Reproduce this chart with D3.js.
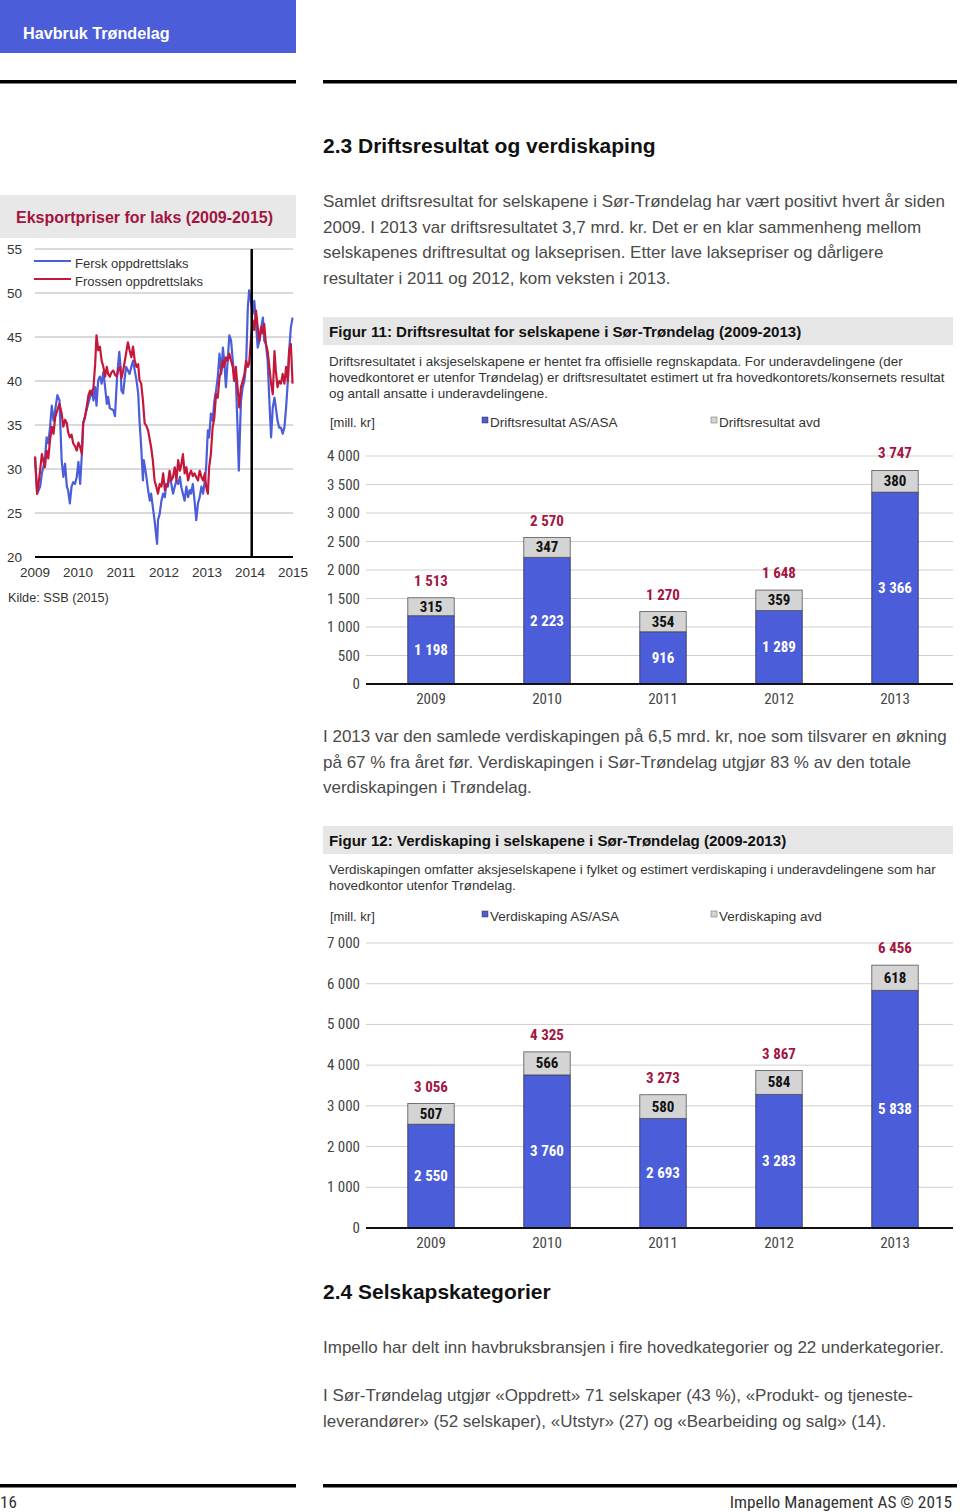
<!DOCTYPE html>
<html><head><meta charset="utf-8">
<script src="https://cdn.jsdelivr.net/npm/d3@7"></script>
<style>
body{margin:0;background:#fff;}
svg text{font-family:"Liberation Sans",Arial,sans-serif;}
</style></head><body><svg id="page" width="960" height="1512"></svg>
<script>
// ---------------- DATA ----------------
const priceYearTicks = [2009,2010,2011,2012,2013,2014,2015];
const priceTicks = [20,25,30,35,40,45,50,55];
const markerYear = 2014.04;
const fersk = [[2009.00,31.4],[2009.05,27.2],[2009.12,28.0],[2009.16,29.5],[2009.23,31.0],[2009.27,33.6],[2009.31,32.9],[2009.35,34.8],[2009.39,37.2],[2009.43,35.5],[2009.47,36.7],[2009.52,38.4],[2009.57,37.8],[2009.60,33.6],[2009.62,31.0],[2009.66,29.1],[2009.70,30.6],[2009.74,28.0],[2009.77,27.6],[2009.81,26.1],[2009.85,28.0],[2009.89,28.5],[2009.93,28.3],[2009.97,29.1],[2010.01,30.8],[2010.05,28.3],[2010.09,31.7],[2010.12,35.2],[2010.20,36.7],[2010.28,38.2],[2010.32,38.9],[2010.36,37.8],[2010.40,39.3],[2010.43,37.2],[2010.47,40.1],[2010.51,40.5],[2010.55,39.7],[2010.59,41.0],[2010.63,39.3],[2010.67,37.4],[2010.70,38.2],[2010.74,36.9],[2010.82,36.7],[2010.86,36.0],[2010.91,40.6],[2010.96,43.3],[2010.99,41.6],[2011.01,38.9],[2011.05,38.6],[2011.09,40.5],[2011.12,41.6],[2011.16,41.2],[2011.20,40.8],[2011.24,41.6],[2011.28,42.3],[2011.32,41.2],[2011.36,40.1],[2011.40,38.6],[2011.43,35.5],[2011.47,32.5],[2011.51,28.7],[2011.53,31.0],[2011.57,29.8],[2011.59,29.1],[2011.63,27.6],[2011.67,26.4],[2011.70,27.2],[2011.74,25.7],[2011.78,24.2],[2011.82,22.3],[2011.84,21.5],[2011.86,24.2],[2011.90,24.9],[2011.94,26.4],[2011.98,27.2],[2012.02,26.8],[2012.05,28.3],[2012.09,28.0],[2012.13,29.5],[2012.17,28.3],[2012.21,27.2],[2012.25,28.0],[2012.29,28.7],[2012.33,28.3],[2012.37,29.1],[2012.40,28.0],[2012.44,27.2],[2012.48,26.4],[2012.52,28.0],[2012.56,26.8],[2012.60,27.6],[2012.63,27.2],[2012.67,28.3],[2012.71,26.4],[2012.75,24.2],[2012.79,26.1],[2012.83,26.8],[2012.87,28.0],[2012.91,27.2],[2012.95,28.7],[2012.98,30.2],[2013.02,34.4],[2013.05,33.6],[2013.09,36.3],[2013.13,35.5],[2013.17,37.7],[2013.21,38.9],[2013.25,40.4],[2013.29,43.1],[2013.33,40.8],[2013.37,43.8],[2013.40,42.3],[2013.44,39.3],[2013.48,42.3],[2013.52,45.2],[2013.56,44.6],[2013.60,42.3],[2013.63,40.8],[2013.67,40.4],[2013.71,34.7],[2013.74,29.8],[2013.77,34.7],[2013.79,37.7],[2013.83,39.3],[2013.87,40.0],[2013.91,41.9],[2013.95,48.4],[2013.98,50.3],[2014.02,49.1],[2014.06,47.6],[2014.10,49.1],[2014.14,46.5],[2014.18,43.8],[2014.22,44.6],[2014.26,46.1],[2014.30,47.2],[2014.33,44.6],[2014.37,44.2],[2014.41,42.3],[2014.45,37.8],[2014.49,33.6],[2014.53,37.0],[2014.57,38.1],[2014.60,37.0],[2014.64,35.5],[2014.68,34.7],[2014.72,34.7],[2014.76,34.0],[2014.80,34.7],[2014.84,37.0],[2014.88,40.0],[2014.91,43.4],[2014.95,46.1],[2014.99,47.2]];
const frossen = [[2009.00,31.4],[2009.05,27.2],[2009.10,29.0],[2009.16,31.7],[2009.23,30.2],[2009.27,32.1],[2009.31,31.2],[2009.35,33.3],[2009.39,34.8],[2009.43,34.0],[2009.47,35.9],[2009.54,37.0],[2009.57,37.4],[2009.62,36.3],[2009.66,34.8],[2009.70,35.6],[2009.74,35.2],[2009.77,34.2],[2009.81,33.6],[2009.85,33.9],[2009.89,32.9],[2009.93,32.6],[2009.97,32.1],[2010.01,33.0],[2010.05,32.5],[2010.09,31.7],[2010.12,35.2],[2010.16,35.8],[2010.20,37.0],[2010.24,38.3],[2010.28,38.9],[2010.32,38.4],[2010.36,39.3],[2010.40,42.0],[2010.43,45.2],[2010.47,43.5],[2010.51,43.9],[2010.55,42.3],[2010.59,41.6],[2010.63,40.5],[2010.67,41.6],[2010.70,40.8],[2010.74,40.5],[2010.78,41.0],[2010.82,41.2],[2010.86,40.7],[2010.90,40.5],[2010.94,41.3],[2010.98,41.6],[2011.01,40.3],[2011.05,41.2],[2011.09,42.3],[2011.12,43.2],[2011.16,44.4],[2011.20,43.5],[2011.24,42.7],[2011.28,43.9],[2011.32,42.3],[2011.36,41.6],[2011.40,41.9],[2011.43,40.1],[2011.47,39.7],[2011.51,37.8],[2011.55,35.2],[2011.59,34.9],[2011.63,34.4],[2011.67,33.3],[2011.70,32.5],[2011.74,31.0],[2011.78,28.7],[2011.82,28.0],[2011.86,27.2],[2011.90,28.3],[2011.94,28.0],[2011.98,29.5],[2012.02,27.6],[2012.05,28.0],[2012.09,28.3],[2012.13,29.8],[2012.17,28.7],[2012.21,29.1],[2012.25,30.2],[2012.29,28.7],[2012.33,31.0],[2012.37,29.8],[2012.40,30.4],[2012.44,31.7],[2012.48,29.5],[2012.52,30.2],[2012.56,28.7],[2012.60,29.5],[2012.63,29.8],[2012.67,29.2],[2012.71,29.5],[2012.75,29.1],[2012.79,28.7],[2012.83,29.8],[2012.87,29.1],[2012.91,28.7],[2012.95,29.5],[2012.98,28.0],[2013.02,27.2],[2013.05,30.2],[2013.09,31.7],[2013.13,34.7],[2013.17,35.8],[2013.21,38.5],[2013.25,38.1],[2013.29,40.4],[2013.33,41.2],[2013.37,42.3],[2013.40,41.6],[2013.44,42.7],[2013.48,42.3],[2013.52,43.1],[2013.56,42.3],[2013.60,41.6],[2013.63,40.0],[2013.67,41.6],[2013.71,39.3],[2013.75,37.0],[2013.79,39.3],[2013.83,40.0],[2013.87,40.8],[2013.91,42.3],[2013.95,41.6],[2013.98,42.0],[2014.02,44.6],[2014.06,46.9],[2014.10,45.8],[2014.14,48.0],[2014.18,46.1],[2014.22,44.6],[2014.26,46.1],[2014.30,45.4],[2014.33,46.5],[2014.37,44.2],[2014.41,43.4],[2014.45,41.6],[2014.49,39.7],[2014.53,38.5],[2014.57,43.4],[2014.60,41.2],[2014.64,39.3],[2014.68,40.0],[2014.72,39.7],[2014.76,40.8],[2014.80,39.7],[2014.84,41.6],[2014.88,40.0],[2014.91,43.4],[2014.95,44.2],[2014.99,39.7]];

const years = ["2009","2010","2011","2012","2013"];
const driftAS = [1198,2223,916,1289,3366];
const driftAvd = [315,347,354,359,380];
const driftTotal = [1513,2570,1270,1648,3747];
const driftTicks = [0,500,1000,1500,2000,2500,3000,3500,4000];
const verdiAS = [2550,3760,2693,3283,5838];
const verdiAvd = [507,566,580,584,618];
const verdiTotal = [3056,4325,3273,3867,6456];
const verdiTicks = [0,1000,2000,3000,4000,5000,6000,7000];

// ---------------- STYLE ----------------
const BLUE = "#4b5dd8", RED = "#c4173a", DARKRED = "#a3143e", GRAYBOX = "#e6e6e6", BODY = "#4a4a4a";
const NARROW = "'Liberation Sans Narrow','Roboto Condensed',Roboto,'Liberation Sans',sans-serif";
const fmt = d3.formatLocale({decimal:",",thousands:" ",grouping:[3],currency:["",""]}).format(",d");

const svg = d3.select("#page");

function txt(x,y,s,o={}) {
  const t = svg.append("text").attr("x",x).attr("y",y).text(s)
    .attr("font-size",o.size||16).attr("fill",o.fill||BODY)
    .attr("font-weight",o.weight||"normal")
    .attr("text-anchor",o.anchor||"start");
  if (o.family) t.style("font-family",o.family);
  return t;
}

// ---------------- PAGE FRAME ----------------
svg.append("rect").attr("x",0).attr("y",0).attr("width",296).attr("height",53).attr("fill",BLUE);
txt(23,39,"Havbruk Trøndelag",{size:16.2,weight:"bold",fill:"#fff"});
svg.append("rect").attr("x",0).attr("y",80).attr("width",296).attr("height",3.5).attr("fill","#000");
svg.append("rect").attr("x",323).attr("y",80).attr("width",634).attr("height",3.5).attr("fill","#000");
svg.append("rect").attr("x",0).attr("y",1484).attr("width",296).attr("height",3.5).attr("fill","#000");
svg.append("rect").attr("x",323).attr("y",1484).attr("width",634).attr("height",3.5).attr("fill","#000");
txt(0,1508,"16",{size:17,fill:"#333",family:NARROW});
txt(952,1508,"Impello Management AS © 2015",{size:17.3,fill:"#333",anchor:"end",family:NARROW});

txt(323,153,"2.3 Driftsresultat og verdiskaping",{size:21,weight:"bold",fill:"#111"});
[["Samlet driftsresultat for selskapene i Sør-Trøndelag har vært positivt hvert år siden",207],
 ["2009. I 2013 var driftsresultatet 3,7 mrd. kr. Det er en klar sammenheng mellom",233],
 ["selskapenes driftresultat og lakseprisen. Etter lave laksepriser og dårligere",258],
 ["resultater i 2011 og 2012, kom veksten i 2013.",284]].forEach(d=>txt(323,d[1],d[0],{size:17}));
[["I 2013 var den samlede verdiskapingen på 6,5 mrd. kr, noe som tilsvarer en økning",742],
 ["på 67 % fra året før. Verdiskapingen i Sør-Trøndelag utgjør 83 % av den totale",768],
 ["verdiskapingen i Trøndelag.",793]].forEach(d=>txt(323,d[1],d[0],{size:17}));
txt(323,1299,"2.4 Selskapskategorier",{size:21,weight:"bold",fill:"#111"});
txt(323,1353,"Impello har delt inn havbruksbransjen i fire hovedkategorier og 22 underkategorier.",{size:17});
txt(323,1401,"I Sør-Trøndelag utgjør «Oppdrett» 71 selskaper (43 %), «Produkt- og tjeneste-",{size:17});
txt(323,1427,"leverandører» (52 selskaper), «Utstyr» (27) og «Bearbeiding og salg» (14).",{size:17});

// ---------------- LINE CHART ----------------
svg.append("rect").attr("x",0).attr("y",195).attr("width",296).attr("height",43).attr("fill","#e8e8e8");
txt(16,223,"Eksportpriser for laks (2009-2015)",{size:16,weight:"bold",fill:DARKRED});
const lx = d3.scaleLinear().domain([2009,2015]).range([35,293]);
const ly = d3.scaleLinear().domain([20,55]).range([557,249]);
const lc = svg.append("g");
lc.selectAll("line.g").data(priceTicks.filter(d=>d>20)).join("line")
  .attr("x1",35).attr("x2",293).attr("y1",d=>ly(d)).attr("y2",d=>ly(d))
  .attr("stroke","#b4b4b4").attr("stroke-width",1);
lc.selectAll("text.yt").data(priceTicks).join("text")
  .attr("x",7).attr("y",d=>ly(d)+5).text(d=>d).attr("font-size",13.5).attr("fill","#333");
lc.selectAll("text.xt").data(priceYearTicks).join("text")
  .attr("x",d=>lx(d)).attr("y",577).attr("text-anchor","middle").text(d=>d)
  .attr("font-size",13.5).attr("fill","#333");
const line = d3.line().x(d=>lx(d[0])).y(d=>ly(d[1]));
lc.append("path").datum(fersk).attr("d",line).attr("fill","none").attr("stroke",BLUE).attr("stroke-width",2.2).attr("stroke-linejoin","round");
lc.append("path").datum(frossen).attr("d",line).attr("fill","none").attr("stroke",RED).attr("stroke-width",2.2).attr("stroke-linejoin","round");
lc.append("line").attr("x1",lx(markerYear)).attr("x2",lx(markerYear)).attr("y1",ly(55)).attr("y2",ly(20))
  .attr("stroke","#000").attr("stroke-width",2.5);
lc.append("line").attr("x1",35).attr("x2",293).attr("y1",ly(20)).attr("y2",ly(20)).attr("stroke","#000").attr("stroke-width",2);
// legend
[["Fersk oppdrettslaks",BLUE,261],["Frossen oppdrettslaks",RED,279]].forEach(d=>{
  lc.append("line").attr("x1",34).attr("x2",71).attr("y1",d[2]).attr("y2",d[2]).attr("stroke",d[1]).attr("stroke-width",2);
  txt(75,d[2]+6.5,d[0],{size:13,fill:"#333"});
});
txt(8,602,"Kilde: SSB (2015)",{size:12.7,fill:"#333"});

// ---------------- BAR CHARTS ----------------
function barChart(cfg){
  svg.append("rect").attr("x",323).attr("y",cfg.boxY).attr("width",630).attr("height",28).attr("fill",GRAYBOX);
  txt(329,cfg.boxY+19.5,cfg.title,{size:15.1,weight:"bold",fill:"#111"});
  cfg.desc.forEach((s,i)=>txt(329,cfg.descY+i*16,s,{size:13.4,fill:"#333"}));
  const ly2 = cfg.legendY;
  txt(330,ly2+4.5,"[mill. kr]",{size:13,fill:"#333"});
  svg.append("rect").attr("x",482).attr("y",ly2-5).attr("width",6).attr("height",6).attr("fill",BLUE).attr("stroke","#333").attr("stroke-width",0.5);
  txt(490,ly2+5,cfg.leg1,{size:13.5,fill:"#333"});
  svg.append("rect").attr("x",711).attr("y",ly2-5).attr("width",6).attr("height",6).attr("fill","#d4d4d4").attr("stroke","#666").attr("stroke-width",0.5);
  txt(719,ly2+5,cfg.leg2,{size:13.5,fill:"#333"});

  const x = d3.scaleBand().domain(years).range([373,953]).paddingInner(0.6).paddingOuter(0.3);
  const y = d3.scaleLinear().domain([0,cfg.max]).range([cfg.y0,cfg.y1]);
  const g = svg.append("g");
  g.selectAll("line.grid").data(cfg.ticks.filter(d=>d>0)).join("line")
    .attr("x1",366).attr("x2",953).attr("y1",d=>y(d)).attr("y2",d=>y(d))
    .attr("stroke","#cfcfcf").attr("stroke-width",1);
  g.selectAll("text.yt").data(cfg.ticks).join("text")
    .attr("x",360).attr("y",d=>y(d)+5).attr("text-anchor","end").text(d=>fmt(d))
    .attr("font-size",15).attr("fill","#444").style("font-family",NARROW);
  g.selectAll("rect.as").data(cfg.as).join("rect")
    .attr("x",(d,i)=>x(years[i])).attr("width",x.bandwidth())
    .attr("y",d=>y(d)).attr("height",d=>y(0)-y(d))
    .attr("fill",BLUE).attr("stroke","#2b2b55").attr("stroke-width",0.8);
  g.selectAll("rect.avd").data(cfg.avd).join("rect")
    .attr("x",(d,i)=>x(years[i])).attr("width",x.bandwidth())
    .attr("y",(d,i)=>y(cfg.as[i]+d)).attr("height",(d,i)=>y(cfg.as[i])-y(cfg.as[i]+d))
    .attr("fill","#d4d4d4").attr("stroke","#555").attr("stroke-width",0.8);
  g.append("line").attr("x1",366).attr("x2",953).attr("y1",y(0)).attr("y2",y(0)).attr("stroke","#111").attr("stroke-width",2);
  const cx = i=>x(years[i])+x.bandwidth()/2;
  g.selectAll("text.asl").data(cfg.as).join("text")
    .attr("x",(d,i)=>cx(i)).attr("y",d=>y(d/2)+5).attr("text-anchor","middle").text(d=>fmt(d))
    .attr("font-size",15).attr("font-weight","bold").attr("fill","#fff").style("font-family",NARROW);
  g.selectAll("text.avl").data(cfg.avd).join("text")
    .attr("x",(d,i)=>cx(i)).attr("y",(d,i)=>y(cfg.as[i]+d/2)+5).attr("text-anchor","middle").text(d=>fmt(d))
    .attr("font-size",15).attr("font-weight","bold").attr("fill","#111").style("font-family",NARROW);
  g.selectAll("text.tot").data(cfg.total).join("text")
    .attr("x",(d,i)=>cx(i)).attr("y",d=>y(d)-12).attr("text-anchor","middle").text(d=>fmt(d))
    .attr("font-size",15).attr("font-weight","bold").attr("fill",DARKRED).style("font-family",NARROW);
  g.selectAll("text.xl").data(years).join("text")
    .attr("x",d=>x(d)+x.bandwidth()/2).attr("y",cfg.y0+20).attr("text-anchor","middle").text(d=>d)
    .attr("font-size",15).attr("fill","#444").style("font-family",NARROW);
}

barChart({boxY:317,title:"Figur 11: Driftsresultat for selskapene i Sør-Trøndelag (2009-2013)",
  desc:["Driftsresultatet i aksjeselskapene er hentet fra offisielle regnskapdata. For underavdelingene (der",
        "hovedkontoret er utenfor Trøndelag) er driftsresultatet estimert ut fra hovedkontorets/konsernets resultat",
        "og antall ansatte i underavdelingene."],
  descY:366, legendY:422, leg1:"Driftsresultat AS/ASA", leg2:"Driftsresultat avd",
  y0:684, y1:456, max:4000, ticks:driftTicks, as:driftAS, avd:driftAvd, total:driftTotal});

barChart({boxY:826,title:"Figur 12: Verdiskaping i selskapene i Sør-Trøndelag (2009-2013)",
  desc:["Verdiskapingen omfatter aksjeselskapene i fylket og estimert verdiskaping i underavdelingene som har",
        "hovedkontor utenfor Trøndelag."],
  descY:873.5, legendY:916, leg1:"Verdiskaping AS/ASA", leg2:"Verdiskaping avd",
  y0:1228, y1:943, max:7000, ticks:verdiTicks, as:verdiAS, avd:verdiAvd, total:verdiTotal});
</script></body></html>
